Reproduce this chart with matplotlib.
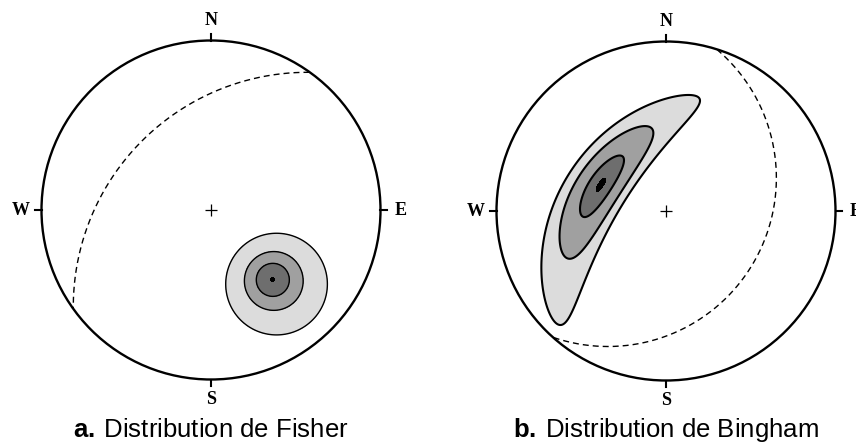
import numpy as np
import matplotlib
matplotlib.use('Agg')
import matplotlib.pyplot as plt
from matplotlib.patches import Circle

plt.rcParams['mathtext.fontset'] = 'custom'
plt.rcParams['mathtext.rm'] = 'Liberation Sans'
plt.rcParams['mathtext.bf'] = 'Liberation Sans:bold'

# Fisher distribution: mean direction (trend, plunge), kappa, contour levels (fraction of peak)
fisher_mean = (138.5, 32.7)
fisher_kappa = 20.0
fisher_levels = [0.14, 0.5, 0.8, 0.997]

# Bingham distribution: mode axis, pole of the girdle, concentrations (k1, k2), levels
bingham_mode = (292.0, 45.0)
bingham_pole = (128.0, 44.0)
bingham_k = (-40.0, -4.0)
bingham_levels = [0.027, 0.150, 0.607, 0.975]

# dashed small circles: axis trend, axis plunge, half-angle (deg)
fisher_circle = (135.0, 54.5, 95.4)
bingham_circle = (299.6, 66.7, 85.2)

fill_colors = ['#dcdcdc', '#a0a0a0', '#6e6e6e', 'black']
cardinals = ['N', 'E', 'S', 'W']
cardinal_az = [0, 90, 180, 270]
titles = [r'$\mathbf{a.}\,$Distribution de Fisher',
          r'$\mathbf{b.}\,$Distribution de Bingham']


def vec(trend, plunge):
    t, p = np.radians(trend), np.radians(plunge)
    return np.array([np.cos(p) * np.sin(t), np.cos(p) * np.cos(t), np.sin(p)])


def grid_vectors(n=801):
    # inverse stereographic (lower hemisphere) on a square grid
    x = np.linspace(-1, 1, n)
    X, Y = np.meshgrid(x, x)
    r2 = X**2 + Y**2
    E = 2 * X / (1 + r2)
    N = 2 * Y / (1 + r2)
    D = (1 - r2) / (1 + r2)
    return X, Y, np.stack([E, N, D], axis=-1), r2 > 1


def small_circle(trend, plunge, half_angle, n=1441):
    a = vec(trend, plunge)
    u = np.cross(a, [0, 0, 1.0])
    u /= np.linalg.norm(u)
    w = np.cross(a, u)
    t = np.linspace(0, 2 * np.pi, n)
    al = np.radians(half_angle)
    pts = (np.cos(al) * a[None, :]
           + np.sin(al) * (np.cos(t)[:, None] * u + np.sin(t)[:, None] * w))
    x = pts[:, 0] / (1 + pts[:, 2])
    y = pts[:, 1] / (1 + pts[:, 2])
    up = pts[:, 2] < 0
    x[up] = np.nan
    y[up] = np.nan
    k = np.argmax(up)
    return np.roll(x, -k), np.roll(y, -k)


def draw_net(ax, F, mask, X, Y, levels, lw, circ):
    Fm = np.ma.masked_where(mask, F)
    ax.contourf(X, Y, Fm, levels=levels + [1.01], colors=fill_colors)
    ax.contour(X, Y, Fm, levels=levels[:3], colors='black', linewidths=lw)

    cx, cy = small_circle(*circ)
    ax.plot(cx, cy, color='black', lw=1.0, dashes=(4.3, 2.9))

    ax.add_patch(Circle((0, 0), 1.0, fill=False, ec='black', lw=1.7))
    ax.plot([0], [0], marker='+', ms=8, mew=0.9, color='black')

    for lab, az in zip(cardinals, cardinal_az):
        s, c = np.sin(np.radians(az)), np.cos(np.radians(az))
        ax.plot([s, 1.04 * s], [c, 1.04 * c], color='black', lw=1.5)
        ax.text(1.12 * s, 1.12 * c, lab, ha='center', va='center',
                fontsize=13, fontweight='bold', family='Liberation Serif')

    ax.set_xlim(-1.3, 1.3)
    ax.set_ylim(-1.3, 1.3)
    ax.set_aspect('equal')
    ax.axis('off')


X, Y, V, outside = grid_vectors()

# Fisher density (relative to its peak)
m = vec(*fisher_mean)
F_fisher = np.exp(fisher_kappa * (V @ m - 1))

# Bingham density (relative to its peak at the mode)
e3 = vec(*bingham_mode)
p = vec(*bingham_pole)
e1 = p - (p @ e3) * e3
e1 /= np.linalg.norm(e1)
e2 = np.cross(e3, e1)
F_bingham = np.exp(bingham_k[0] * (V @ e1)**2 + bingham_k[1] * (V @ e2)**2)

W, H = 856, 443
R = 169.5
centers = [(211, 210), (666, 211)]
fig = plt.figure(figsize=(W / 100, H / 100), dpi=100)
axes = []
for cx, cy in centers:
    side = 2.6 * R
    axes.append(fig.add_axes([(cx - side / 2) / W, (H - cy - side / 2) / H,
                              side / W, side / H]))

draw_net(axes[0], F_fisher, outside, X, Y, fisher_levels, 1.0, fisher_circle)
draw_net(axes[1], F_bingham, outside, X, Y, bingham_levels, 1.5, bingham_circle)

for (cx, cy), title in zip(centers, titles):
    fig.text(cx / W, 1 - 437 / H, title, ha='center', va='baseline',
             fontsize=18.5, family='Liberation Sans')

fig.savefig('out.png', dpi=100)
